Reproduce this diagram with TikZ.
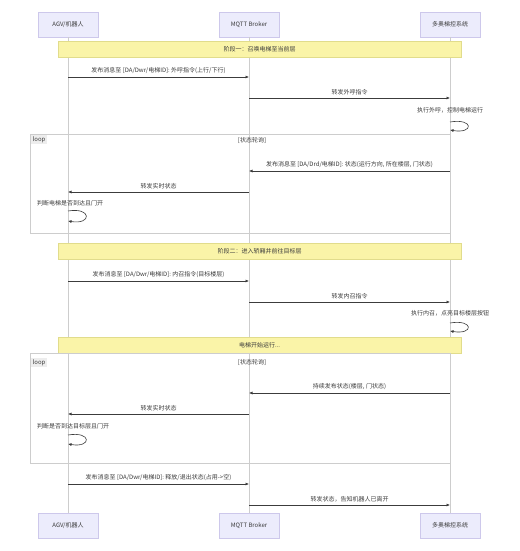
\documentclass[tikz,border=0pt]{standalone}
\usepackage{fontspec}
\newfontfamily\cjk{Noto Sans CJK SC}
\usetikzlibrary{arrows.meta}

\definecolor{actorfill}{RGB}{236,236,252}
\definecolor{actorline}{RGB}{205,200,235}
\definecolor{notefill}{RGB}{250,244,168}
\definecolor{noteline}{RGB}{225,220,140}
\definecolor{lifegray}{RGB}{205,205,205}
\definecolor{inkgray}{RGB}{60,60,60}

\begin{document}
\begin{tikzpicture}[x=1pt,y=-1pt,
  txt/.style={font=\cjk\fontsize{6}{7}\selectfont,text=inkgray},
  actor/.style={txt,draw=actorline,fill=actorfill,minimum width=60pt,minimum height=25pt,inner sep=0pt},
  banner/.style={txt,draw=noteline,fill=notefill,minimum width=403pt,minimum height=16pt,inner sep=0pt},
  life/.style={draw=lifegray,line width=0.6pt},
  msg/.style={draw=inkgray,line width=0.6pt,-{Latex[length=3.5pt,width=3pt]}},
  lbl/.style={txt,above=3pt,inner sep=0pt},
  frame/.style={draw=lifegray,line width=0.6pt},
  looptag/.style={txt,fill=black!7,anchor=north west,inner sep=1.5pt}]
\useasboundingbox[fill=white] (0,0) rectangle (519,551);

% participants
\node[actor] (agv) at (68,24.5) {AGV/机器人};
\node[actor] (mqtt) at (249,24.5) {MQTT Broker};
\node[actor] (ctl) at (450,24.5) {多奥梯控系统};
\node[actor] (agvb) at (68,525.5) {AGV/机器人};
\node[actor] (mqttb) at (249,525.5) {MQTT Broker};
\node[actor] (ctlb) at (450,525.5) {多奥梯控系统};
\draw[life] (agv) -- (agvb);
\draw[life] (mqtt) -- (mqttb);
\draw[life] (ctl) -- (ctlb);

% phase one
\node[banner] (ph1) at (259.5,49) {阶段一：召唤电梯至当前层};
\coordinate (m1) at (0,77);
\coordinate (m2) at (0,98);
\coordinate (s1a) at (0,122);
\coordinate (s1b) at (0,130);
\draw[msg] (m1 -| agv) -- node[lbl] {发布消息至 [DA/Dwr/电梯ID]: 外呼指令(上行/下行)} (m1 -| mqtt);
\draw[msg] (m2 -| mqtt) -- node[lbl] {转发外呼指令} (m2 -| ctl);
\node[txt] (t1) at (450,110) {执行外呼，控制电梯运行};
\draw[msg] (s1a -| ctl) .. controls +(24,-4) and +(24,4) .. (s1b -| ctl);

% loop one
\draw[frame] (30,134) rectangle (450,233);
\node[looptag] (loop1) at (31,135) {loop};
\node[txt] (cond1) at (252,140) {[状态轮询]};
\coordinate (m3) at (0,171);
\coordinate (m4) at (0,192);
\coordinate (s2a) at (0,211);
\coordinate (s2b) at (0,221);
\draw[msg] (m3 -| ctl) -- node[lbl] {发布消息至 [DA/Drd/电梯ID]: 状态(运行方向, 所在楼层, 门状态)} (m3 -| mqtt);
\draw[msg] (m4 -| mqtt) -- node[lbl] {转发实时状态} (m4 -| agv);
\node[txt] (t2) at (70,203) {判断电梯是否到达且门开};
\draw[msg] (s2a -| agv) .. controls +(24,-4) and +(24,4) .. (s2b -| agv);

% phase two
\node[banner] (ph2) at (259.5,251.5) {阶段二：进入轿厢并前往目标层};
\coordinate (m5) at (0,281);
\coordinate (m6) at (0,302);
\coordinate (s3a) at (0,323);
\coordinate (s3b) at (0,331);
\draw[msg] (m5 -| agv) -- node[lbl] {发布消息至 [DA/Dwr/电梯ID]: 内召指令(目标楼层)} (m5 -| mqtt);
\draw[msg] (m6 -| mqtt) -- node[lbl] {转发内召指令} (m6 -| ctl);
\node[txt] (t3) at (450,313) {执行内召，点亮目标楼层按钮};
\draw[msg] (s3a -| ctl) .. controls +(24,-4) and +(24,4) .. (s3b -| ctl);
\node[banner] (run) at (259.5,345) {电梯开始运行...};

% loop two
\draw[frame] (30,353) rectangle (450,463);
\node[looptag] (loop2) at (31,358) {loop};
\node[txt] (cond2) at (252,362) {[状态轮询]};
\coordinate (m7) at (0,393);
\coordinate (m8) at (0,414);
\coordinate (s4a) at (0,435);
\coordinate (s4b) at (0,444);
\draw[msg] (m7 -| ctl) -- node[lbl] {持续发布状态(楼层, 门状态)} (m7 -| mqtt);
\draw[msg] (m8 -| mqtt) -- node[lbl] {转发实时状态} (m8 -| agv);
\node[txt] (t4) at (73,426) {判断是否到达目标层且门开};
\draw[msg] (s4a -| agv) .. controls +(24,-4) and +(24,4) .. (s4b -| agv);

% leaving
\coordinate (m9) at (0,484);
\coordinate (m10) at (0,505);
\draw[msg] (m9 -| agv) -- node[lbl] {发布消息至 [DA/Dwr/电梯ID]: 释放/退出状态(占用->空)} (m9 -| mqtt);
\draw[msg] (m10 -| mqtt) -- node[lbl] {转发状态，告知机器人已离开} (m10 -| ctl);
\end{tikzpicture}
\end{document}
